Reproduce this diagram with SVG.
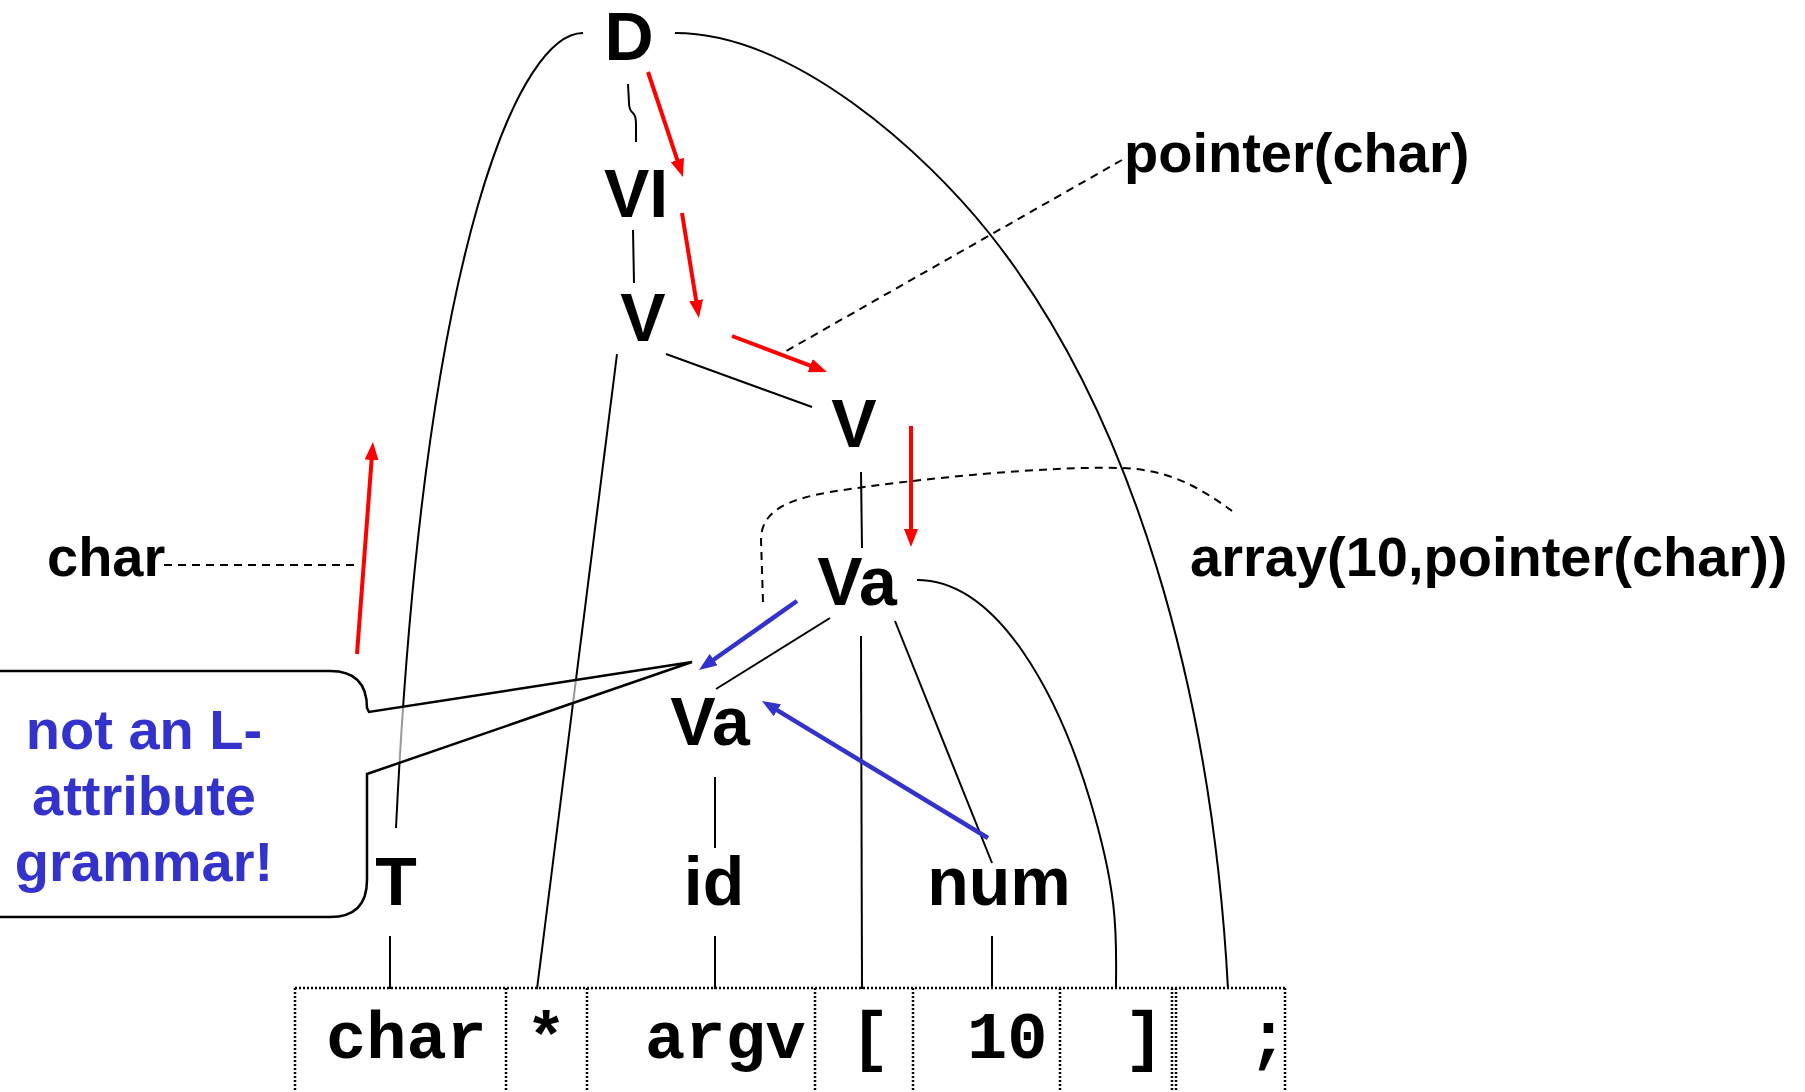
<svg xmlns="http://www.w3.org/2000/svg" width="1805" height="1092" viewBox="0 0 1805 1092">
<style>
.node{font-family:"Liberation Sans",Arial,sans-serif;font-weight:bold;font-size:68px;fill:#000;text-anchor:middle}
.lab{font-family:"Liberation Sans",Arial,sans-serif;font-weight:bold;font-size:56px;fill:#000}
.note{font-family:"Liberation Sans",Arial,sans-serif;font-weight:bold;font-size:56px;fill:#3333cc;text-anchor:middle}
.tok{font-family:"Liberation Mono","Courier New",monospace;font-weight:bold;font-size:67px;fill:#000}
.edge{fill:none;stroke:#000;stroke-width:2}
.dash{fill:none;stroke:#000;stroke-width:2;stroke-dasharray:8,6}
.red{fill:none;stroke:#ff0000;stroke-width:4;marker-end:url(#ahr)}
.blue{fill:none;stroke:#3333cc;stroke-width:4.5;marker-end:url(#ahb)}
.cell{fill:none;stroke:#000;stroke-width:2.5;stroke-dasharray:2,2}
</style>
<defs>
<marker id="ahr" viewBox="0 0 18 14" refX="12" refY="7" markerWidth="18" markerHeight="14" markerUnits="userSpaceOnUse" orient="auto"><path d="M0,0 L18,7 L0,14 z" fill="#ff0000"/></marker>
<marker id="ahb" viewBox="0 0 18 14" refX="12" refY="7" markerWidth="18" markerHeight="14" markerUnits="userSpaceOnUse" orient="auto"><path d="M0,0 L18,7 L0,14 z" fill="#3333cc"/></marker>
</defs>
<rect width="1805" height="1092" fill="#fff"/>

<g id="connectors">
<path class="edge" d="M628,84 L629,103 Q629,110 633,113 Q636,116 636,124 L636,142"/>
<path class="edge" d="M633,230 L634,283"/>
<path class="edge" d="M617,354 L537,989"/>
<path class="edge" d="M666,354 L812,407"/>
<path class="edge" d="M583,33 C523,33 425,228 396,828"/>
<path class="edge" d="M675,33 C795,33 927,155 989,233 C1132,412 1212,689 1228,989"/>
<path class="edge" d="M861,472 L862,548"/>
<path class="edge" d="M830,618 L716,689"/>
<path class="edge" d="M861,636 L862,989"/>
<path class="edge" d="M895,621 L992,863"/>
<path class="edge" d="M917,580 C1000,580 1060,700 1090,800 S1116,940 1116,989"/>
<path class="edge" d="M715,777 L715,848"/>
<path class="edge" d="M390,936 L390,989"/>
<path class="edge" d="M715,936 L715,989"/>
<path class="edge" d="M992,936 L992,989"/>

<path class="dash" d="M1122,160 L781,354"/>
<path class="dash" d="M164,565 L359,565"/>
<path class="dash" d="M763,602 L761,540 C761,512 785,500 830,492 C920,478 1050,466 1120,468 C1165,469 1195,484 1232,511"/>

<path class="red" d="M648,72 L681.1,171.3"/>
<path class="red" d="M682,213 L698,312.1"/>
<path class="red" d="M732,336 L821.4,369.9"/>
<path class="red" d="M911,426 L911,541"/>
<path class="red" d="M357,654 L372.5,448"/>
<path class="blue" d="M797,601 L703.9,666.5"/>
<path class="blue" d="M988,838 L767.1,704.1"/>
</g>

<g id="n-D"><text class="node" x="629" y="60">D</text></g>
<g id="n-VI"><text class="node" x="636" y="217">VI</text></g>
<g id="n-V1"><text class="node" x="643" y="341">V</text></g>
<g id="n-V2"><text class="node" x="854" y="447">V</text></g>
<g id="n-Va1"><text class="node" x="857" y="605">Va</text></g>
<g id="n-Va2"><text class="node" x="710" y="745">Va</text></g>
<g id="n-T"><text class="node" x="396" y="905">T</text></g>
<g id="n-id"><text class="node" x="714" y="905">id</text></g>
<g id="n-num"><text class="node" x="999" y="905">num</text></g>

<g id="l-pointer"><text class="lab" x="1124" y="172">pointer(char)</text></g>
<g id="l-array"><text class="lab" x="1190" y="576">array(10,pointer(char))</text></g>
<g id="l-char"><text class="lab" x="47" y="576">char</text></g>

<g id="callout">
<path d="M-10,671 L330,671 Q367,671 367,708 L369,712 L692,662 L367,774 L367,880 Q367,917 330,917 L-10,917 Z" fill="#fff" fill-opacity="0.6" stroke="#000" stroke-width="2.5" stroke-linejoin="miter"/>
<text class="note" x="144" y="749">not an L-</text>
<text class="note" x="144" y="815">attribute</text>
<text class="note" x="144" y="881">grammar!</text>
</g>

<g id="tokens">
<path class="cell" d="M295,988 L1285,988 M295,988 L295,1092 M506,988 L506,1092 M587,988 L587,1092 M815,988 L815,1092 M913,988 L913,1092 M1060,988 L1060,1092 M1172,988 L1172,1092 M1176,988 L1176,1092 M1285,988 L1285,1092"/>
<text class="tok" x="326" y="1058">char</text>
<text class="tok" x="526" y="1058">*</text>
<text class="tok" x="645" y="1058">argv</text>
<text class="tok" x="850" y="1058">[</text>
<text class="tok" x="967" y="1058">10</text>
<text class="tok" x="1124" y="1058">]</text>
<text class="tok" x="1248" y="1058">;</text>
</g>
</svg>
